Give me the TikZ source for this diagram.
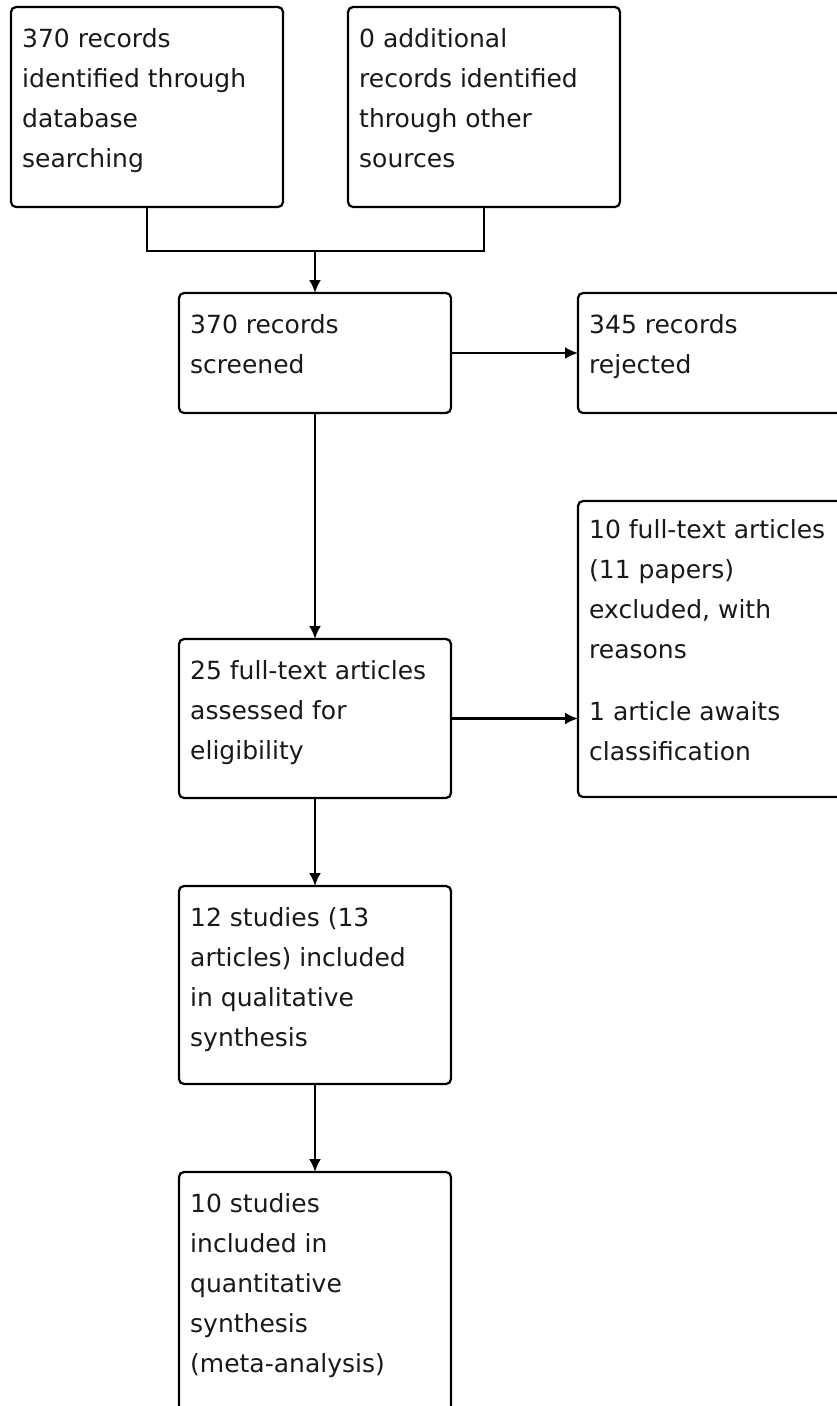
\documentclass[tikz,border=0pt]{standalone}
\usepackage{fontspec}
\setmainfont{DejaVu Sans}
\usetikzlibrary{arrows.meta,calc}
\begin{document}
\begin{tikzpicture}[x=1pt,y=-1pt,
  box/.style={draw, line width=2.2pt, rounded corners=5pt, inner sep=0pt, outer sep=0pt, anchor=north west, minimum width=272pt},
  txt/.style={align=left, inner sep=0pt, anchor=base west, text=black!90, font=\fontsize{25}{40}\selectfont},
  con/.style={line width=2.2pt},
  arr/.style={line width=2.2pt, -{Latex[length=13pt,width=12pt]}}]
\useasboundingbox (0,0) rectangle (837,1406);
\clip (0,0) rectangle (837,1406);
% boxes
\node[box, minimum height=200pt] (b1) at (11,7) {};
\node[box, minimum height=200pt] (b2) at (348,7) {};
\node[box, minimum height=120pt] (b3) at (179,293) {};
\node[box, minimum height=120pt] (b4) at (578,293) {};
\node[box, minimum height=159pt] (b5) at (179,639) {};
\node[box, minimum height=296pt] (b6) at (578,501) {};
\node[box, minimum height=198pt] (b7) at (179,886) {};
\node[box, minimum height=240pt] (b8) at (179,1172) {};
% texts (anchored at the baseline of the last line)
\node[txt] (t1) at (22,167) {370 records\\identified through\\database\\searching};
\node[txt] (t2) at (359,167) {0 additional\\records identified\\through other\\sources};
\node[txt] (t3) at (190,373) {370 records\\screened};
\node[txt] (t4) at (589,373) {345 records\\rejected};
\node[txt] (t5) at (190,759) {25 full-text articles\\assessed for\\eligibility};
\node[txt] (t6) at (589,760) {10 full-text articles\\(11 papers)\\excluded, with\\reasons\\[22pt]1 article awaits\\classification};
\node[txt] (t7) at (190,1046) {12 studies (13\\articles) included\\in qualitative\\synthesis};
\node[txt] (t8) at (190,1372) {10 studies\\included in\\quantitative\\synthesis\\(meta-analysis)};
% connectors
\coordinate (j) at (b3.north |- 0,251);
\draw[con] (b1.south) |- (j) -| (b2.south);
\draw[arr] (j) -- (b3.north);
\draw[arr] (b3.east) -- (b4.west |- b3.east);
\draw[arr] (b3.south) -- (b5.north);
\draw[arr] (b5.east) -- (b6.west |- b5.east);
\draw[arr] (b5.south) -- (b7.north);
\draw[arr] (b7.south) -- (b8.north);
\end{tikzpicture}
\end{document}
